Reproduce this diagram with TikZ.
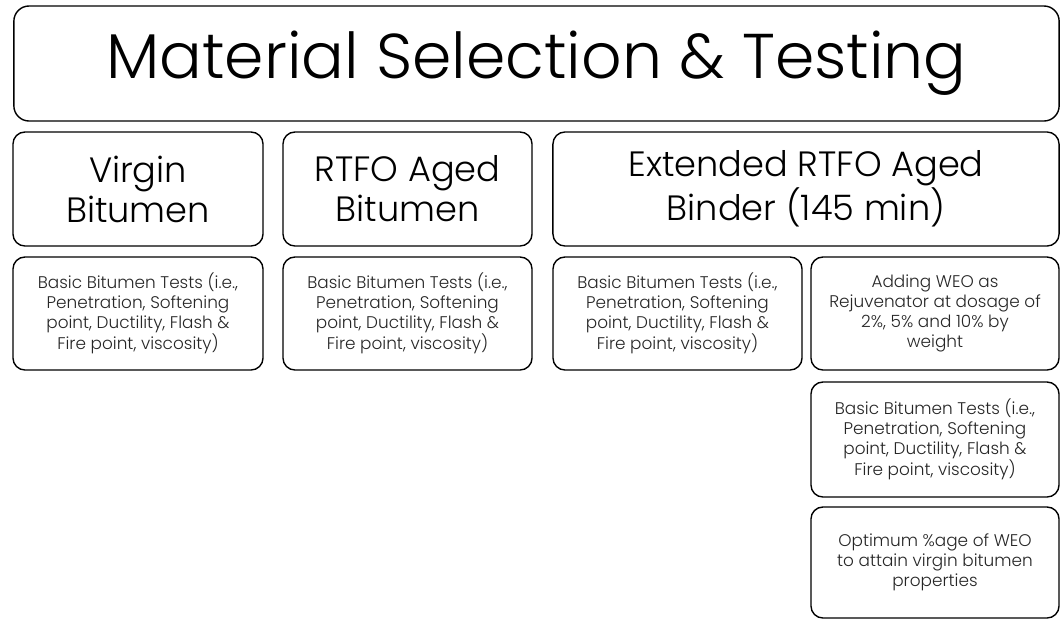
\documentclass[tikz,border=0pt]{standalone}
\usepackage{fontspec}
\setmainfont{Poppins}[UprightFont=* Light]
\usepackage{tikz}

\begin{document}
\begin{tikzpicture}[x=0.025cm, y=-0.025cm, line join=round, line cap=round,
    box/.style={draw=black, line width=1pt, rounded corners=0.3cm, align=center, inner sep=0pt},
    head/.style={box, font=\fontsize{25}{28.5}\selectfont},
    test/.style={box, text=black!85, font=\fontsize{12}{14.2}\selectfont}]
        \useasboundingbox (0,0) rectangle (1061,620);
        % title
        \node[box, rounded corners=0.38cm, minimum width=26.125cm, minimum height=2.875cm,
              font=\fontsize{45}{50}\selectfont] (title) at (536.5,63.5) {Material Selection \& Testing};
        % binders
        \node[head, minimum width=6.25cm, minimum height=2.85cm] (virgin) at (138,189) {Virgin\\Bitumen};
        \node[head, minimum width=6.225cm, minimum height=2.85cm] (rtfo) at (407.5,189) {RTFO Aged\\Bitumen};
        \node[head, minimum width=12.65cm, minimum height=2.85cm] (ext) at (806,189) {Extended RTFO Aged\\Binder (145 min)};
        % tests
        \node[test, minimum width=6.25cm, minimum height=2.825cm] (testA) at (138,313.5)
            {Basic Bitumen Tests (i.e.,\\Penetration, Softening\\point, Ductility, Flash \&\\Fire point, viscosity)};
        \node[test, minimum width=6.225cm, minimum height=2.825cm] (testB) at (407.5,313.5)
            {Basic Bitumen Tests (i.e.,\\Penetration, Softening\\point, Ductility, Flash \&\\Fire point, viscosity)};
        \node[test, minimum width=6.225cm, minimum height=2.825cm] (testC) at (677.5,313.5)
            {Basic Bitumen Tests (i.e.,\\Penetration, Softening\\point, Ductility, Flash \&\\Fire point, viscosity)};
        \node[test, minimum width=6.2cm, minimum height=2.825cm] (weo) at (935,313.5)
            {Adding WEO as\\Rejuvenator at dosage of\\2\%, 5\% and 10\% by\\weight};
        \node[test, minimum width=6.2cm, minimum height=2.875cm] (testD) at (935,439.5)
            {Basic Bitumen Tests (i.e.,\\Penetration, Softening\\point, Ductility, Flash \&\\Fire point, viscosity)};
        \node[test, minimum width=6.2cm, minimum height=2.775cm] (opt) at (935,562.5)
            {Optimum \%age of WEO\\to attain virgin bitumen\\properties};
\end{tikzpicture}
\end{document}
